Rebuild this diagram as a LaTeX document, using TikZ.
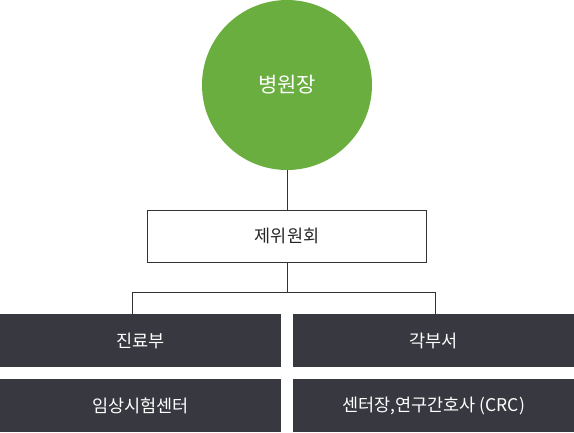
\documentclass[tikz,border=0pt]{standalone}
\usepackage{fontspec}
\setmainfont{Noto Sans CJK KR}
\definecolor{chiefgreen}{HTML}{69AE3F}
\definecolor{darkbox}{HTML}{383840}
\definecolor{linegray}{HTML}{333333}
\begin{document}
\begin{tikzpicture}[x=1pt,y=-1pt,
  chief/.style={circle,fill=chiefgreen,minimum size=170pt,inner sep=0pt,text=white,font=\fontsize{21}{24}\selectfont},
  board/.style={draw=linegray,line width=0.8pt,fill=white,minimum width=279pt,minimum height=52pt,inner sep=0pt,text=black!85,font=\fontsize{17.5}{20}\selectfont},
  unit/.style={fill=darkbox,minimum width=281pt,minimum height=52.5pt,inner sep=0pt,text=white,font=\fontsize{17.5}{20}\selectfont},
  link/.style={draw=linegray,line width=0.8pt}]
\useasboundingbox (0,0) rectangle (574,432);
\node[chief] (chief) at (287,85) {병원장};
\node[board] (board) at (287,236) {제위원회};
\node[unit] (med) at (140.5,340.5) {진료부};
\node[unit] (dept) at (433.5,340.5) {각부서};
\node[unit] (trial) at (140.5,405.5) {임상시험센터};
\node[unit] (crc) at (433.5,405.5) {센터장,연구간호사 (CRC)};
\coordinate (split) at (287,292);
\coordinate (lsplit) at (132.5,292);
\coordinate (rsplit) at (435.3,292);
\draw[link] (chief.south) -- (board.north);
\draw[link] (board.south) -- (split);
\draw[link] (lsplit) -- (rsplit);
\draw[link] (lsplit) -- (lsplit |- med.north);
\draw[link] (rsplit) -- (rsplit |- dept.north);
\end{tikzpicture}
\end{document}
